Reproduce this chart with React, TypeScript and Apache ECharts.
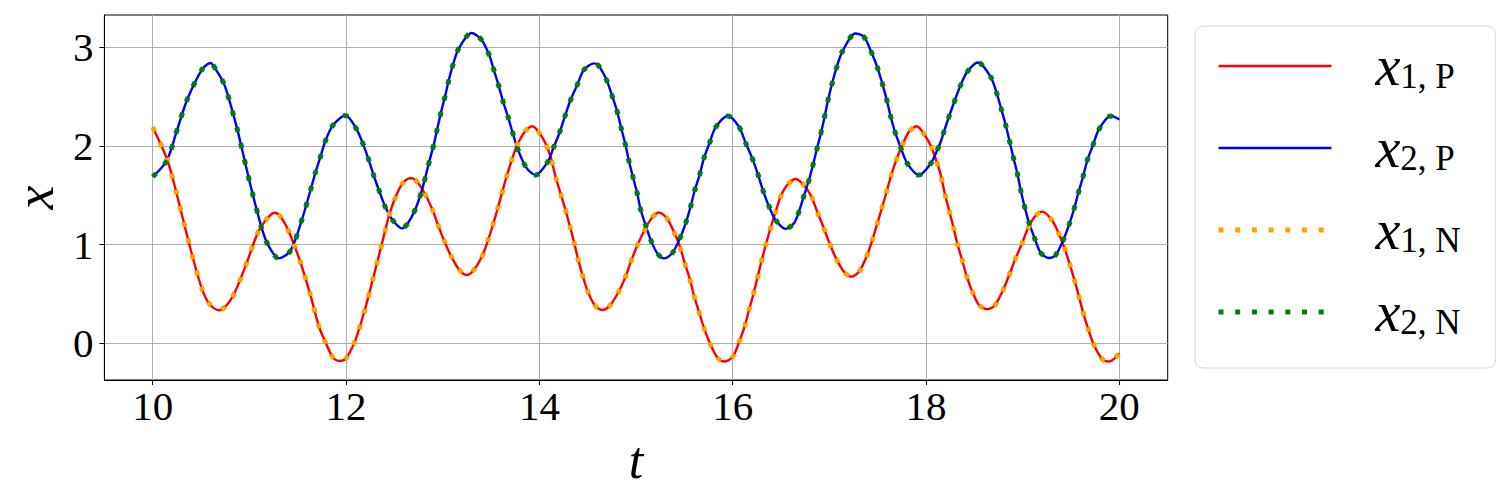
import React, { useEffect, useRef } from "react";
import * as echarts from "echarts";

// x1 (Python solver): [t, x]
const x1P: [number, number][] = [
  [10.0, 2.19], [10.15, 1.86], [10.245, 1.526], [10.328, 1.199], [10.414, 0.871], [10.511, 0.547],
  [10.587, 0.398], [10.683, 0.335], [10.74, 0.36], [10.832, 0.482], [10.963, 0.79], [11.087, 1.121],
  [11.17, 1.25], [11.259, 1.323], [11.321, 1.285], [11.408, 1.131], [11.528, 0.821], [11.628, 0.5],
  [11.72, 0.168], [11.787, 0.01], [11.866, -0.146], [11.942, -0.18], [12.004, -0.146], [12.087, 0.007],
  [12.142, 0.168], [12.191, 0.327], [12.235, 0.489], [12.28, 0.658], [12.322, 0.821], [12.363, 0.979],
  [12.404, 1.141], [12.449, 1.31], [12.504, 1.462], [12.58, 1.614], [12.667, 1.672], [12.718, 1.655],
  [12.804, 1.536], [12.891, 1.361], [12.949, 1.206], [13.012, 1.047], [13.081, 0.895], [13.167, 0.75],
  [13.246, 0.692], [13.315, 0.736], [13.405, 0.878], [13.467, 1.04], [13.519, 1.199], [13.567, 1.361],
  [13.612, 1.52], [13.66, 1.688], [13.712, 1.85], [13.77, 2.009], [13.857, 2.154], [13.926, 2.2],
  [14.046, 2.06], [14.115, 1.891], [14.167, 1.688], [14.219, 1.519], [14.27, 1.351], [14.315, 1.188],
  [14.357, 1.03], [14.398, 0.861], [14.443, 0.702], [14.495, 0.54], [14.571, 0.388], [14.65, 0.338],
  [14.719, 0.371], [14.812, 0.507], [14.884, 0.658], [14.943, 0.817], [15.005, 0.973], [15.074, 1.121],
  [15.16, 1.266], [15.236, 1.325], [15.312, 1.277], [15.391, 1.131], [15.454, 0.979], [15.502, 0.817],
  [15.554, 0.658], [15.598, 0.489], [15.65, 0.32], [15.702, 0.158], [15.764, 0.0], [15.847, -0.152],
  [15.916, -0.185], [16.002, -0.135], [16.064, 0.008], [16.123, 0.168], [16.168, 0.338], [16.212, 0.489],
  [16.254, 0.658], [16.295, 0.821], [16.337, 0.979], [16.385, 1.148], [16.444, 1.333], [16.495, 1.485],
  [16.564, 1.604], [16.65, 1.665], [16.719, 1.621], [16.806, 1.503], [16.875, 1.333], [16.937, 1.181],
  [16.995, 1.03], [17.064, 0.871], [17.151, 0.725], [17.227, 0.675], [17.306, 0.725], [17.385, 0.878],
  [17.444, 1.047], [17.496, 1.216], [17.547, 1.384], [17.592, 1.536], [17.64, 1.705], [17.692, 1.857],
  [17.754, 2.009], [17.823, 2.144], [17.903, 2.2], [17.985, 2.111], [18.054, 1.992], [18.11, 1.84],
  [18.151, 1.71], [18.192, 1.526], [18.237, 1.351], [18.282, 1.182], [18.323, 1.013], [18.368, 0.861],
  [18.417, 0.692], [18.479, 0.523], [18.548, 0.388], [18.634, 0.345], [18.713, 0.388], [18.789, 0.523],
  [18.858, 0.686], [18.917, 0.838], [18.986, 0.996], [19.055, 1.165], [19.124, 1.283], [19.203, 1.334],
  [19.296, 1.256], [19.365, 1.131], [19.427, 0.979], [19.489, 0.793], [19.537, 0.635], [19.582, 0.473],
  [19.627, 0.304], [19.675, 0.152], [19.737, -0.017], [19.824, -0.162], [19.893, -0.185], [20.0, -0.1],
];

// x2 (Python solver): [t, x]
const x2P: [number, number][] = [
  [10.0, 1.688], [10.145, 1.85], [10.249, 2.154], [10.359, 2.475], [10.511, 2.776], [10.597, 2.84],
  [10.652, 2.776], [10.735, 2.634], [10.79, 2.472], [10.88, 2.148], [10.959, 1.817], [11.039, 1.492],
  [11.128, 1.165], [11.19, 1.003], [11.304, 0.861], [11.425, 0.938], [11.542, 1.249], [11.636, 1.565],
  [11.684, 1.733], [11.735, 1.891], [11.787, 2.053], [11.866, 2.212], [11.994, 2.308], [12.108, 2.171],
  [12.177, 2.016], [12.235, 1.857], [12.287, 1.698], [12.346, 1.536], [12.408, 1.378], [12.487, 1.242],
  [12.58, 1.165], [12.639, 1.216], [12.718, 1.361], [12.777, 1.526], [12.822, 1.688], [12.863, 1.85],
  [12.908, 2.016], [12.943, 2.171], [12.984, 2.347], [13.025, 2.506], [13.063, 2.668], [13.108, 2.83],
  [13.167, 2.989], [13.298, 3.145], [13.398, 3.08], [13.477, 2.931], [13.529, 2.769], [13.58, 2.607],
  [13.625, 2.448], [13.677, 2.29], [13.725, 2.128], [13.777, 1.966], [13.865, 1.78], [13.96, 1.705],
  [14.081, 1.83], [14.15, 1.992], [14.212, 2.144], [14.263, 2.296], [14.322, 2.465], [14.391, 2.617],
  [14.46, 2.769], [14.564, 2.837], [14.615, 2.81], [14.695, 2.668], [14.753, 2.506], [14.805, 2.347],
  [14.847, 2.178], [14.891, 2.009], [14.926, 1.85], [14.967, 1.688], [15.012, 1.52], [15.047, 1.358],
  [15.098, 1.199], [15.157, 1.036], [15.219, 0.912], [15.288, 0.861], [15.374, 0.912], [15.454, 1.064],
  [15.513, 1.216], [15.564, 1.384], [15.605, 1.543], [15.657, 1.705], [15.702, 1.874], [15.761, 2.032],
  [15.823, 2.188], [15.95, 2.303], [16.064, 2.195], [16.133, 2.032], [16.202, 1.874], [16.26, 1.715],
  [16.312, 1.553], [16.374, 1.391], [16.444, 1.249], [16.547, 1.16], [16.633, 1.216], [16.685, 1.333],
  [16.737, 1.496], [16.789, 1.655], [16.833, 1.817], [16.875, 1.986], [16.916, 2.144], [16.954, 2.313],
  [16.988, 2.472], [17.03, 2.64], [17.075, 2.796], [17.133, 2.954], [17.271, 3.14], [17.357, 3.106],
  [17.433, 2.954], [17.496, 2.796], [17.547, 2.634], [17.592, 2.472], [17.633, 2.303], [17.678, 2.144],
  [17.735, 1.992], [17.806, 1.824], [17.927, 1.705], [18.047, 1.82], [18.116, 1.958], [18.151, 2.04],
  [18.185, 2.144], [18.237, 2.296], [18.296, 2.458], [18.358, 2.617], [18.427, 2.752], [18.537, 2.845],
  [18.668, 2.701], [18.73, 2.539], [18.779, 2.371], [18.824, 2.212], [18.865, 2.043], [18.903, 1.884],
  [18.944, 1.722], [18.979, 1.553], [19.02, 1.384], [19.065, 1.222], [19.124, 1.064], [19.186, 0.918],
  [19.272, 0.865], [19.341, 0.895], [19.42, 1.047], [19.479, 1.199], [19.531, 1.361], [19.576, 1.526],
  [19.624, 1.688], [19.669, 1.857], [19.727, 2.009], [19.789, 2.168], [19.91, 2.303], [20.0, 2.27],
];

// numerical solutions overlap the Python ones in the reference
const x1N: [number, number][] = x1P;
const x2N: [number, number][] = x2P;

const xTicks = [10, 12, 14, 16, 18, 20];
const yTicks = [0, 1, 2, 3];
const subscripts: Record<string, string> = { x1P: "1, P", x2P: "2, P", x1N: "1, N", x2N: "2, N" };

const FONT = "Liberation Serif";
const DOT: number[] = [5, 11.7];

export default function App() {
  const ref = useRef<HTMLDivElement>(null);
  useEffect(() => {
    if (!ref.current) return;
    const chart = echarts.init(ref.current, undefined, { renderer: "svg" });
    chart.setOption({
      animation: false,
      backgroundColor: "#ffffff",
      textStyle: { fontFamily: FONT },
      grid: {
        left: 103.3,
        top: 15,
        right: 332.3,
        bottom: 120,
        show: true,
        borderColor: "#000",
        borderWidth: 1,
        backgroundColor: "transparent",
      },
      xAxis: {
        type: "value",
        min: 9.5,
        max: 20.5,
        name: "t",
        nameLocation: "middle",
        nameGap: 54,
        nameTextStyle: { fontFamily: FONT, fontStyle: "italic", fontSize: 52, color: "#000" },
        axisLine: { show: true, onZero: false, lineStyle: { color: "#000", width: 1 } },
        axisTick: { show: true, customValues: xTicks, length: 5, inside: false, lineStyle: { color: "#000", width: 1 } },
        axisLabel: { customValues: xTicks, margin: 5, fontFamily: FONT, fontSize: 41, color: "#000" },
        splitLine: { show: true, lineStyle: { color: "#b0b0b0", width: 1 } },
      },
      yAxis: {
        type: "value",
        min: -0.372,
        max: 3.327,
        name: "x",
        nameLocation: "middle",
        nameRotate: 90,
        nameGap: 42,
        nameTextStyle: { fontFamily: FONT, fontStyle: "italic", fontSize: 54, color: "#000" },
        axisLine: { show: true, onZero: false, lineStyle: { color: "#000", width: 1 } },
        axisTick: { show: true, customValues: yTicks, length: 5, inside: false, lineStyle: { color: "#000", width: 1 } },
        axisLabel: { customValues: yTicks, margin: 11, fontFamily: FONT, fontSize: 41, color: "#000" },
        splitLine: { show: true, lineStyle: { color: "#b0b0b0", width: 1 } },
      },
      legend: {
        data: [
          { name: "x1P", lineStyle: { width: 2.6 } },
          { name: "x2P", lineStyle: { width: 2.6 } },
          { name: "x1N", lineStyle: { width: 5 } },
          { name: "x2N", lineStyle: { width: 5 } },
        ],
        orient: "vertical",
        left: 1195,
        top: 26,
        itemWidth: 113,
        itemHeight: 56,
        itemGap: 26,
        padding: [12, 35, 28, 21],
        backgroundColor: "#ffffff",
        borderColor: "#d6d6d6",
        borderWidth: 1,
        borderRadius: 8,
        itemStyle: { opacity: 0 },
        formatter: (name: string) => `{sp|}{x|x}{s|${subscripts[name]}}`,
        textStyle: {
          color: "#000",
          fontFamily: FONT,
          fontSize: 34,
          rich: {
            sp: { width: 39 },
            x: { fontFamily: FONT, fontStyle: "italic", fontSize: 56, lineHeight: 56, color: "#000" },
            s: { fontFamily: FONT, fontSize: 35, lineHeight: 25, verticalAlign: "bottom", color: "#000" },
          },
        },
      },
      series: [
        {
          name: "x1P", type: "line", data: x1P, symbol: "none", showSymbol: false, smooth: 0.3, z: 2,
          lineStyle: { color: "#ff0000", width: 2.4 }, itemStyle: { color: "#ff0000" },
        },
        {
          name: "x2P", type: "line", data: x2P, symbol: "none", showSymbol: false, smooth: 0.3, z: 3,
          lineStyle: { color: "#0000ff", width: 2.4 }, itemStyle: { color: "#0000ff" },
        },
        {
          name: "x1N", type: "line", data: x1N, symbol: "none", showSymbol: false, smooth: 0.3, z: 4,
          lineStyle: { color: "#ffa500", width: 5, type: DOT, cap: "butt" }, itemStyle: { color: "#ffa500" },
        },
        {
          name: "x2N", type: "line", data: x2N, symbol: "none", showSymbol: false, smooth: 0.3, z: 5,
          lineStyle: { color: "#008000", width: 5, type: DOT, cap: "butt" }, itemStyle: { color: "#008000" },
        },
      ],
    });
    return () => chart.dispose();
  }, []);
  return (
    <div
      ref={ref}
      style={{ position: "fixed", left: 0, top: 0, width: 1500, height: 500, background: "#fff" }}
    />
  );
}
